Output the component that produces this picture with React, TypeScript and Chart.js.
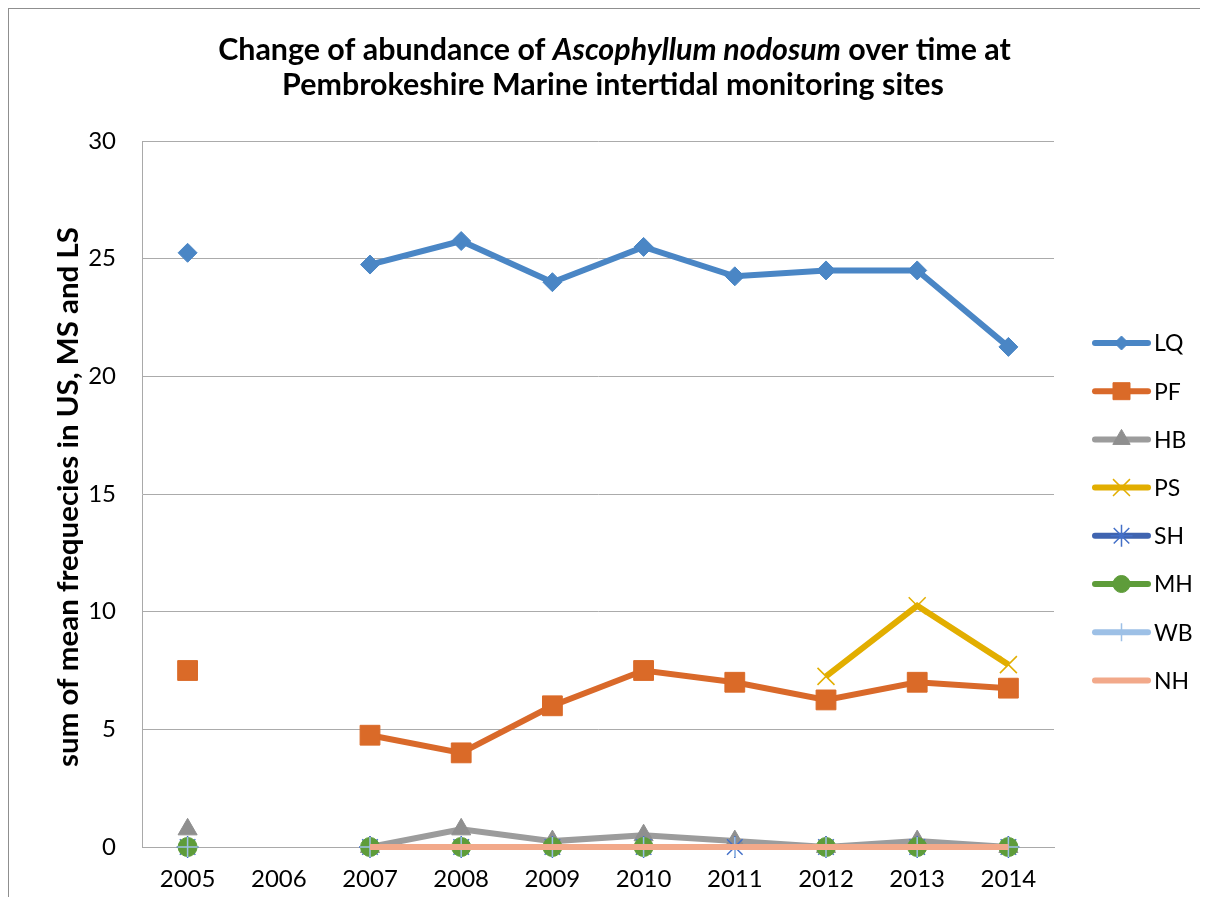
import React, { useEffect, useRef } from "react";
import { Chart, registerables } from "chart.js";
import { drawPoint } from "chart.js/helpers";

Chart.register(...registerables);

const YEARS = ["2005", "2006", "2007", "2008", "2009", "2010", "2011", "2012", "2013", "2014"];
const LQ = [25.25, null, 24.75, 25.75, 24, 25.5, 24.25, 24.5, 24.5, 21.25];
const PF = [7.5, null, 4.75, 4, 6, 7.5, 7, 6.25, 7, 6.75];
const HB = [0.75, null, 0, 0.75, 0.25, 0.5, 0.25, 0, 0.25, 0];
const PS = [null, null, null, null, null, null, null, 7.25, 10.25, 7.75];
const SH = [0, null, 0, 0, 0, 0, 0, 0, 0, 0];
const MH = [0, null, 0, 0, 0, 0, null, 0, 0, 0];
const WB = [0, null, 0, 0, 0, 0, 0, 0, 0, 0];
const NH = [null, null, 0, 0, 0, 0, 0, 0, 0, 0];
const SERIES_NAMES = ["LQ", "PF", "HB", "PS", "SH", "MH", "WB", "NH"];
const Y_MIN = 0;
const Y_MAX = 30;
const Y_STEP = 5;
const TITLE_LINE1 = [
  { t: "Change of abundance of ", i: false },
  { t: "Ascophyllum nodosum", i: true },
  { t: " over time at", i: false },
];
const TITLE_LINE2 = "Pembrokeshire Marine intertidal monitoring sites";
const Y_TITLE = "sum of mean frequecies in US, MS and LS";

const FONT = "Lato, 'Open Sans', sans-serif";

type Sty = { color: string; style: any; r: number; lr: number; bw: number; mColor: string; line: number };
const STYLES: Sty[] = [
  { color: "#4A86C5", style: "rectRot", r: 9.5, lr: 7, bw: 1, mColor: "#4A86C5", line: 6 },
  { color: "#D9692A", style: "rect", r: 14, lr: 12, bw: 1, mColor: "#DA6A28", line: 6 },
  { color: "#9C9C9C", style: "triangle", r: 11, lr: 10, bw: 1, mColor: "#8F8F8F", line: 6 },
  { color: "#E2AE00", style: "crossRot", r: 12, lr: 12, bw: 1.5, mColor: "#E2AE00", line: 6 },
  { color: "#3F64B0", style: "star", r: 11, lr: 11, bw: 1.5, mColor: "#4470C8", line: 6 },
  { color: "#5E9C3A", style: "circle", r: 9.5, lr: 8.5, bw: 1, mColor: "#5E9C3A", line: 6 },
  { color: "#9DC0E6", style: "cross", r: 10, lr: 9, bw: 1.5, mColor: "#9DC0E6", line: 6 },
  { color: "#F2A98A", style: "line", r: 0, lr: 5, bw: 1, mColor: "#E8A080", line: 6 },
];

const DATA = [LQ, PF, HB, PS, SH, MH, WB, NH];

const overlayPlugin = {
  id: "overlay",
  afterDraw(chart: any) {
    const ctx: CanvasRenderingContext2D = chart.ctx;
    ctx.save();
    // Title
    ctx.fillStyle = "#000";
    ctx.textBaseline = "alphabetic";
    const base = 28;
    const measure = (size: number) => {
      let w = 0;
      for (const s of TITLE_LINE1) {
        ctx.font = `${s.i ? "italic " : ""}bold ${size}px ${FONT}`;
        w += ctx.measureText(s.t).width;
      }
      return w;
    };
    const size = Math.min(34, base * 793 / measure(base));
    const w1 = measure(size);
    let x = 606.5 - w1 / 2;
    ctx.textAlign = "left";
    for (const s of TITLE_LINE1) {
      ctx.font = `${s.i ? "italic " : ""}bold ${size}px ${FONT}`;
      ctx.fillText(s.t, x, 52);
      x += ctx.measureText(s.t).width;
    }
    ctx.font = `bold ${size}px ${FONT}`;
    ctx.textAlign = "center";
    ctx.fillText(TITLE_LINE2, 605, 87);

    // Y axis title
    ctx.font = `bold 24px ${FONT}`;
    const yw = ctx.measureText(Y_TITLE).width;
    const ys = 24 * 540 / yw;
    ctx.font = `bold ${ys}px ${FONT}`;
    ctx.translate(60, 489);
    ctx.rotate(-Math.PI / 2);
    ctx.textAlign = "center";
    ctx.textBaseline = "middle";
    ctx.fillText(Y_TITLE, 0, 0);
    ctx.restore();

    // Legend
    ctx.save();
    for (let i = 0; i < SERIES_NAMES.length; i++) {
      const st = STYLES[i];
      const y = 335 + i * 48.2;
      ctx.strokeStyle = st.color;
      ctx.lineWidth = 6;
      ctx.lineCap = "round";
      ctx.beginPath();
      ctx.moveTo(1087, y);
      ctx.lineTo(1140, y);
      ctx.stroke();
      ctx.fillStyle = st.mColor;
      ctx.strokeStyle = st.mColor;
      ctx.lineWidth = st.bw;
      ctx.lineCap = "butt";
      if (st.style !== "line") {
        drawPoint(ctx, { pointStyle: st.style, radius: st.lr, rotation: 0, borderWidth: st.bw }, 1113.5, y);
      }
      ctx.fillStyle = "#000";
      ctx.font = `23px ${FONT}`;
      ctx.textAlign = "left";
      ctx.textBaseline = "middle";
      ctx.fillText(SERIES_NAMES[i], 1146, y + 1);
    }
    ctx.restore();
  },
};

export default function App() {
  const ref = useRef<HTMLCanvasElement | null>(null);
  useEffect(() => {
    document.documentElement.style.overflow = "hidden";
    document.body.style.overflow = "hidden";
    if (!ref.current) return;
    const datasets = SERIES_NAMES.map((name, i) => {
      const st = STYLES[i];
      return {
        label: name,
        data: DATA[i],
        borderColor: st.color,
        backgroundColor: st.mColor,
        borderWidth: st.line,
        pointStyle: st.style,
        pointRadius: st.r,
        pointBorderWidth: st.bw,
        pointBorderColor: st.mColor,
        pointBackgroundColor: st.mColor,
        spanGaps: false,
        tension: 0,
        clip: false as any,
        order: SERIES_NAMES.length - 1 - i,
      };
    });
    const chart = new Chart(ref.current, {
      type: "line",
      data: { labels: YEARS, datasets: datasets as any },
      options: {
        responsive: false,
        animation: false,
        devicePixelRatio: 1,
        layout: { padding: { left: 0, top: 133, right: 154, bottom: 0 } },
        plugins: { legend: { display: false }, tooltip: { enabled: false }, title: { display: false } },
        scales: {
          x: {
            type: "category",
            offset: true,
            grid: { display: false, drawTicks: false },
            border: { display: true, color: "#a9a9a9", width: 1 },
            ticks: { font: { family: FONT, size: 24 }, color: "#000", padding: 18, maxRotation: 0, autoSkip: false },
            afterFit: (s: any) => { s.height = 58; },
          },
          y: {
            min: Y_MIN,
            max: Y_MAX,
            ticks: { stepSize: Y_STEP, font: { family: FONT, size: 24 }, color: "#000", padding: 26 },
            grid: { color: "#ababab", drawTicks: false, lineWidth: 1 },
            border: { display: true, color: "#a9a9a9", width: 1 },
            afterFit: (s: any) => { s.width = 134; },
          },
        },
      },
      plugins: [overlayPlugin],
    });
    return () => chart.destroy();
  }, []);
  return (
    <div style={{ position: "relative", width: 1192, height: 889, fontFamily: FONT }}>
      <div style={{ position: "absolute", left: 0, top: 0, width: 1200, height: 897, borderLeft: "1.5px solid #8f8f8f", borderTop: "1.5px solid #8f8f8f", boxSizing: "border-box", pointerEvents: "none" }} />
      <canvas ref={ref} width={1200} height={897} style={{ position: "absolute", left: 0, top: 0 }} />
    </div>
  );
}
